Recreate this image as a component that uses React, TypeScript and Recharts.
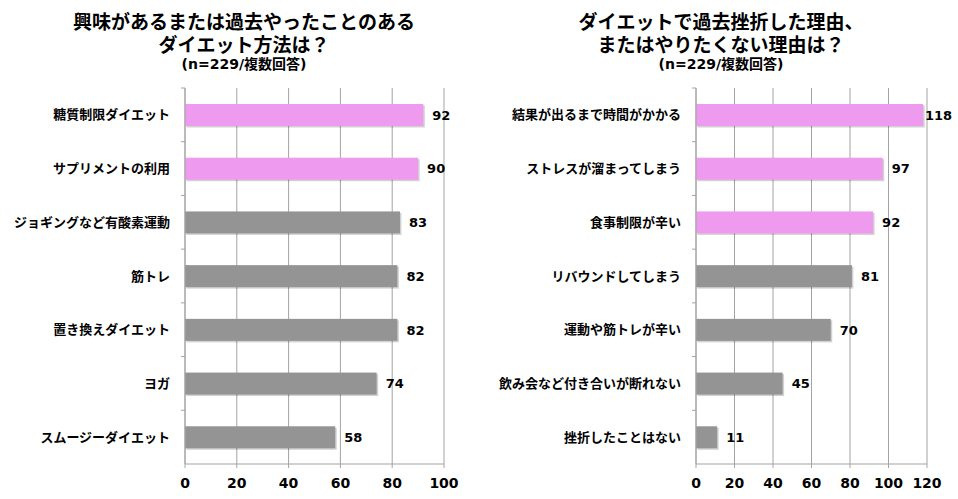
import React from 'react';
import { BarChart, Bar, XAxis, YAxis, CartesianGrid, Cell, LabelList } from 'recharts';

// left chart: interested / tried diet methods
const leftNames = [
    '糖質制限ダイエット',
    'サプリメントの利用',
    'ジョギングなど有酸素運動',
    '筋トレ',
    '置き換えダイエット',
    'ヨガ',
    'スムージーダイエット',
];
const leftValues = [92, 90, 83, 82, 82, 74, 58];
const leftTicks = [0, 20, 40, 60, 80, 100];

// right chart: reasons for giving up
const rightNames = [
    '結果が出るまで時間がかかる',
    'ストレスが溜まってしまう',
    '食事制限が辛い',
    'リバウンドしてしまう',
    '運動や筋トレが辛い',
    '飲み会など付き合いが断れない',
    '挫折したことはない',
];
const rightValues = [118, 97, 92, 81, 70, 45, 11];
const rightTicks = [0, 20, 40, 60, 80, 100, 120];

const PINK = '#ee9aef';
const GRAY = '#949494';
const LINE = '#a3a3a3';
const FONT = '"Noto Sans CJK JP", "Noto Sans", sans-serif';
const NUM_FONT = '"DejaVu Sans", Verdana, "Noto Sans CJK JP", sans-serif';

const W = 479;
const H = 499;
const TOP = 88;
const AXIS_H = 30;
const BOTTOM = 5;
const PLOT_H = H - TOP - BOTTOM - AXIS_H;

const CategoryTick = ({ x, y, payload, count }: any) => {
    const band = PLOT_H / count;
    return (
        <g>
            <line x1={x - 4} x2={x} y1={y - band / 2} y2={y - band / 2} stroke={LINE} />
            <text x={x - 15} y={y} dy="0.35em" textAnchor="end" fontSize={13} fontWeight="bold" fill="#000" fontFamily={FONT}>
                {payload.value}
            </text>
        </g>
    );
};

const ShadowBar = (props: any) => {
    const { x, y, width, height, fill } = props;
    return (
        <g>
            <rect x={x + 1.5} y={y + 1.5} width={width} height={height} fill="rgba(0,0,0,0.18)" />
            <rect x={x} y={y} width={width} height={height} fill={fill} />
        </g>
    );
};

function Panel({ names, values, ticks, max, highlight, axisW, right }: any) {
    const data = names.map((n: string, i: number) => ({ name: n, value: values[i] }));
    const maxX = W - right - 2;

    const ValueLabel = (p: any) => {
        const tx = Math.min(p.x + p.width + 9, maxX);
        return (
            <text x={tx} y={p.y + p.height / 2} dy="0.36em" fontSize={13} fontWeight="bold" fill="#000" fontFamily={NUM_FONT}>
                {p.value}
            </text>
        );
    };

    return (
        <BarChart width={W} height={H} data={data} layout="vertical" margin={{ top: TOP, right, bottom: BOTTOM, left: 0 }}>
            <CartesianGrid horizontal={false} stroke={LINE} />
            <XAxis
                type="number"
                domain={[0, max]}
                ticks={ticks}
                interval={0}
                height={AXIS_H}
                axisLine={{ stroke: LINE }}
                tickLine={{ stroke: LINE }}
                tickSize={4}
                tickMargin={10}
                tick={{ fontSize: 14, fontWeight: 'bold', fill: '#000', fontFamily: NUM_FONT }}
            />
            <YAxis
                type="category"
                dataKey="name"
                width={axisW}
                axisLine={{ stroke: LINE }}
                tickLine={false}
                tickSize={0}
                tickMargin={0}
                interval={0}
                tick={<CategoryTick count={names.length} />}
            />
            <Bar dataKey="value" barSize={22} isAnimationActive={false} shape={<ShadowBar />}>
                {data.map((_: any, i: number) => (
                    <Cell key={`c-${i}`} fill={i < highlight ? PINK : GRAY} />
                ))}
                <LabelList dataKey="value" content={<ValueLabel />} />
            </Bar>
        </BarChart>
    );
}

const titleStyle: React.CSSProperties = {
    position: 'absolute',
    top: 9,
    textAlign: 'center',
    fontFamily: FONT,
    fontWeight: 'bold',
    color: '#000',
    fontSize: 19,
    lineHeight: '23px',
};
const subStyle: React.CSSProperties = { fontSize: 14, lineHeight: '19px', fontFamily: NUM_FONT };

export default function App() {
    return (
        <div style={{ position: 'absolute', left: 0, top: 0, width: 958, height: 499, background: '#fff', overflow: 'hidden' }}>
            <div style={{ ...titleStyle, left: 0, width: 488 }}>
                <div>興味があるまたは過去やったことのある</div>
                <div>ダイエット方法は？</div>
                <div style={subStyle}>(n=229/複数回答)</div>
            </div>
            <div style={{ ...titleStyle, left: 484, width: 474 }}>
                <div>ダイエットで過去挫折した理由、</div>
                <div>またはやりたくない理由は？</div>
                <div style={subStyle}>(n=229/複数回答)</div>
            </div>
            <div style={{ position: 'absolute', left: 0, top: 0 }}>
                <Panel names={leftNames} values={leftValues} ticks={leftTicks} max={100} highlight={2} axisW={185} right={35} />
            </div>
            <div style={{ position: 'absolute', left: 479, top: 0 }}>
                <Panel names={rightNames} values={rightValues} ticks={rightTicks} max={120} highlight={3} axisW={217} right={31} />
            </div>
        </div>
    );
}
